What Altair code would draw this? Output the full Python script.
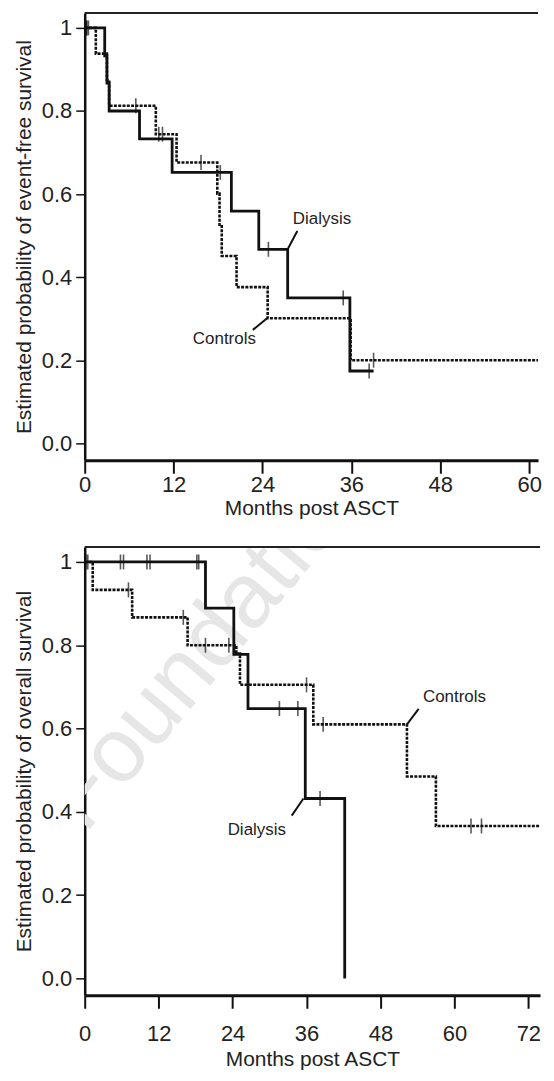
import altair as alt
import pandas as pd

FONT = "Liberation Sans"

# ---------------- Event-free survival (top panel) ----------------
efs_dial_t = [0, 2.7, 3.0, 3.3, 7.4, 11.8, 19.8, 23.5, 27.4, 35.8, 39.0]
efs_dial_s = [1.0, 0.933, 0.867, 0.8, 0.733, 0.652, 0.559, 0.467, 0.35, 0.174, 0.174]
efs_ctrl_t = [0, 1.5, 3.0, 3.3, 9.6, 12.4, 17.9, 18.2, 18.5, 20.5, 24.7, 35.9, 61.2]
efs_ctrl_s = [1.0, 0.938, 0.875, 0.8125, 0.744, 0.676, 0.601, 0.526, 0.451, 0.376, 0.301, 0.20, 0.20]
efs_dial_cens_t = [0.2, 0.5, 18.3, 24.8, 34.9, 38.4]
efs_dial_cens_s = [1.0, 1.0, 0.652, 0.467, 0.35, 0.174]
efs_ctrl_cens_t = [0.3, 6.9, 10.0, 10.5, 15.7, 39.0]
efs_ctrl_cens_s = [1.0, 0.8125, 0.744, 0.744, 0.676, 0.20]

# ---------------- Overall survival (bottom panel) ----------------
os_dial_t = [0, 19.6, 24.2, 26.5, 35.8, 42.2]
os_dial_s = [1.0, 0.889, 0.778, 0.648, 0.432, 0.0]
os_ctrl_t = [0, 1.3, 7.7, 16.7, 24.6, 25.2, 37.1, 52.3, 57.0, 73.9]
os_ctrl_s = [1.0, 0.933, 0.867, 0.80, 0.78, 0.705, 0.61, 0.485, 0.366, 0.366]
os_dial_cens_t = [0.2, 0.5, 5.8, 6.3, 10.1, 10.6, 18.2, 18.5, 31.6, 34.6, 38.2]
os_dial_cens_s = [1, 1, 1, 1, 1, 1, 1, 1, 0.648, 0.648, 0.432]
os_ctrl_cens_t = [7.1, 16.0, 19.6, 23.4, 36.0, 38.7, 62.7, 64.4]
os_ctrl_cens_s = [0.933, 0.867, 0.8, 0.8, 0.705, 0.61, 0.366, 0.366]

# annotation labels: (text, month, probability) and leader lines
efs_label_text = ["Dialysis", "Controls"]
efs_label_t = [28.1, 14.6]
efs_label_s = [0.54, 0.252]
efs_lead_t = [28.7, 22.7]
efs_lead_s = [0.511, 0.273]
efs_lead_t2 = [27.4, 24.7]
efs_lead_s2 = [0.467, 0.302]

os_label_text = ["Controls", "Dialysis"]
os_label_t = [54.9, 23.2]
os_label_s = [0.675, 0.356]
os_lead_t = [54.2, 35.5]
os_lead_s = [0.647, 0.432]
os_lead_t2 = [52.3, 33.6]
os_lead_s2 = [0.61, 0.391]

y_ticks = [0, 0.2, 0.4, 0.6, 0.8, 1.0]
efs_x_ticks = [0, 12, 24, 36, 48, 60]
os_x_ticks = [0, 12, 24, 36, 48, 60, 72]

watermark_text = ["Foundation"]
watermark_t = [20.5]
watermark_s = [0.81]


def panel(xmax, ymin, ymax, width, height, ytitle, xticks,
          dial_t, dial_s, ctrl_t, ctrl_s, dc_t, dc_s, cc_t, cc_s,
          lab_text, lab_t, lab_s, ld_t, ld_s, ld_t2, ld_s2,
          x_lab_pad, x_title_y, wm=None):
    xaxis = alt.Axis(values=xticks, title="Months post ASCT", grid=False,
                     tickSize=13, tickWidth=2, labelPadding=x_lab_pad,
                     labelFlush=False, titleY=x_title_y,
                     titleBaseline="alphabetic", domainWidth=3)
    yaxis = alt.Axis(values=y_ticks, title=ytitle, grid=False, tickSize=9,
                     tickWidth=1.5, labelPadding=4, domainWidth=2.5,
                     labelExpr="datum.value == 1 ? '1' : format(datum.value, '.1f')",
                     titleX=-54, titleY=height / 2, titleAngle=270,
                     titleAlign="center", titleBaseline="alphabetic")
    X = alt.X("t:Q", scale=alt.Scale(domain=[0, xmax], nice=False, zero=False), axis=xaxis)
    Y = alt.Y("s:Q", scale=alt.Scale(domain=[ymin, ymax], nice=False, zero=False), axis=yaxis)

    layers = []
    if wm is not None:
        wdf = pd.DataFrame({"t": wm[1], "s": wm[2], "txt": wm[0]})
        layers.append(alt.Chart(wdf).mark_text(angle=310, fontSize=92, font=FONT,
                                               color="#e6e6e6", clip=True)
                      .encode(x=X, y=Y, text="txt:N"))
    frame = pd.DataFrame({"t": [0], "t2": [xmax], "s": [ymax]})
    layers.append(alt.Chart(frame).mark_rule(color="#222", strokeWidth=2)
                  .encode(x=X, x2="t2:Q", y=Y))
    cdf = pd.DataFrame({"t": ctrl_t, "s": ctrl_s})
    layers.append(alt.Chart(cdf).mark_line(interpolate="step-after", color="#111",
                                           strokeWidth=2.6, strokeDash=[3, 1.3])
                  .encode(x=X, y=Y))
    ddf = pd.DataFrame({"t": dial_t, "s": dial_s})
    layers.append(alt.Chart(ddf).mark_line(interpolate="step-after", color="#111",
                                           strokeWidth=2.8)
                  .encode(x=X, y=Y))
    cens = pd.DataFrame({"t": dc_t + cc_t, "s": dc_s + cc_s})
    layers.append(alt.Chart(cens).mark_tick(orient="vertical", size=15, thickness=1.6,
                                            color="#111")
                  .encode(x=X, y=Y))
    ld = pd.DataFrame({"t": ld_t, "s": ld_s, "t2": ld_t2, "s2": ld_s2})
    layers.append(alt.Chart(ld).mark_rule(color="#111", strokeWidth=2)
                  .encode(x=X, y=Y, x2="t2:Q", y2="s2:Q"))
    lab = pd.DataFrame({"t": lab_t, "s": lab_s, "txt": lab_text})
    layers.append(alt.Chart(lab).mark_text(align="left", baseline="middle", font=FONT,
                                           fontSize=17, color="#222")
                  .encode(x=X, y=Y, text="txt:N"))
    return alt.layer(*layers).properties(width=width, height=height)


top = panel(61.2, -0.041, 1.036, 455, 449,
            "Estimated probability of event-free survival", efs_x_ticks,
            efs_dial_t, efs_dial_s, efs_ctrl_t, efs_ctrl_s,
            efs_dial_cens_t, efs_dial_cens_s, efs_ctrl_cens_t, efs_ctrl_cens_s,
            efs_label_text, efs_label_t, efs_label_s,
            efs_lead_t, efs_lead_s, efs_lead_t2, efs_lead_s2,
            x_lab_pad=1, x_title_y=54)

bottom = panel(73.9, -0.0406, 1.036, 457, 450,
               "Estimated probability of overall survival", os_x_ticks,
               os_dial_t, os_dial_s, os_ctrl_t, os_ctrl_s,
               os_dial_cens_t, os_dial_cens_s, os_ctrl_cens_t, os_ctrl_cens_s,
               os_label_text, os_label_t, os_label_s,
               os_lead_t, os_lead_s, os_lead_t2, os_lead_s2,
               x_lab_pad=15, x_title_y=70,
               wm=(watermark_text, watermark_t, watermark_s))

chart = alt.vconcat(top, bottom, spacing=28).properties(
    padding={"left": 5, "top": 2, "right": 0, "bottom": 0}
).configure_view(stroke=None).configure_axis(
    domainColor="#111", tickColor="#111", labelColor="#222", titleColor="#222",
    labelFont=FONT, titleFont=FONT, labelFontSize=22, titleFontSize=21,
    titleFontWeight="normal"
)

chart.save("out.html", embed_options={"renderer": "svg", "actions": False})
